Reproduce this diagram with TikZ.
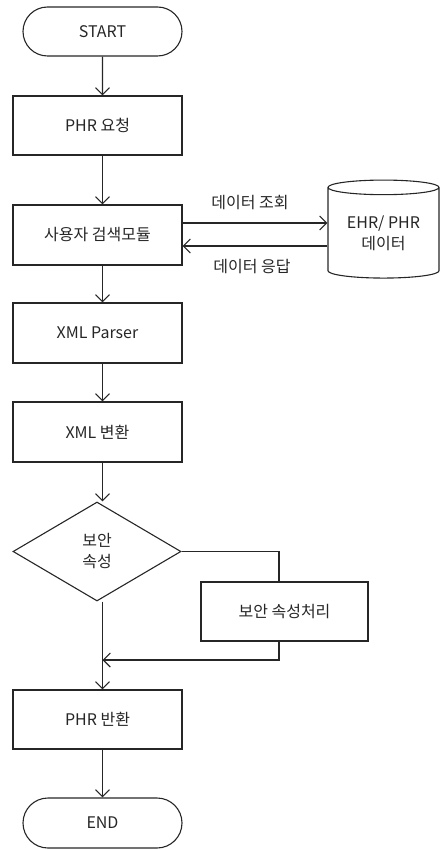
\documentclass[tikz,border=0pt]{standalone}
\usepackage{fontspec}
\setmainfont{Noto Sans CJK KR}
\usetikzlibrary{shapes.geometric,shapes.misc,arrows.meta}

\begin{document}
\begin{tikzpicture}[x=1pt,y=-1pt,font=\fontsize{16}{21}\selectfont,color=black!85]

    % Stili comuni
    \tikzset{
        every path/.style={line width=1.1pt},
        stepbox/.style={draw, rectangle, minimum width=169pt, minimum height=59pt, inner sep=0pt},
        termbox/.style={draw, rounded rectangle, minimum width=159pt, minimum height=49pt, inner sep=0pt},
        flow/.style={-{Straight Barb[length=7pt,width=14pt]}}
    }

    % Cornice della pagina
    \useasboundingbox (0,0) rectangle (440,850);

    % Blocchi del flusso principale
    \node[termbox] (start) at (102.5,31.5) {START};
    \node[stepbox] (req) at (97.5,125.5) {PHR 요청};
    \node[stepbox, minimum height=60pt] (search) at (97.5,235) {사용자 검색모듈};
    \node[stepbox, minimum height=60pt] (parser) at (97.5,333) {XML Parser};
    \node[stepbox, minimum height=60pt] (convert) at (97.5,432) {XML 변환};
    \node[draw, diamond, minimum width=168pt, minimum height=99pt, inner sep=0pt, align=center] (check) at (97,551.5) {보안\\속성};
    \node[stepbox, minimum width=167pt] (secure) at (284.5,611.5) {보안 속성처리};
    \node[stepbox] (ret) at (97.5,719.5) {PHR 반환};
    \node[termbox, minimum height=50pt] (end) at (102.5,823) {END};

    % Archivio dati
    \node[draw, cylinder, shape border rotate=90, minimum width=111pt, minimum height=98pt, aspect=0.2, inner sep=0pt, align=center] (db) at (383.5,233) {EHR/ PHR\\데이터};

    % Etichette delle richieste
    \node (qlabel) at (250,203) {데이터 조회};
    \node (alabel) at (252,267) {데이터 응답};

    % Frecce verticali
    \draw[flow] (start) -- (start |- req.north);
    \draw[flow] (start |- req.south) -- (start |- search.north);
    \draw[flow] (start |- search.south) -- (start |- parser.north);
    \draw[flow] (start |- parser.south) -- (start |- convert.north);
    \draw[flow] (start |- convert.south) -- (start |- check.north);
    \draw[flow] (start |- check.south) -- (start |- ret.north);
    \draw[flow] (start |- ret.south) -- (start |- end.north);

    % Richiesta e risposta
    \coordinate (qout) at ([yshift=12pt]search.east);
    \coordinate (aout) at ([yshift=-11pt]search.east);
    \draw[flow] (qout) -- (qout -| db.west);
    \draw[flow] (aout -| db.west) -- (aout);

    % Ramo di sicurezza
    \coordinate (merge) at (start |- 0,660);
    \draw (check.east) -| ([xshift=-5.5pt]secure.north);
    \draw[flow] ([xshift=-5.5pt]secure.south) |- (merge);

\end{tikzpicture}
\end{document}
